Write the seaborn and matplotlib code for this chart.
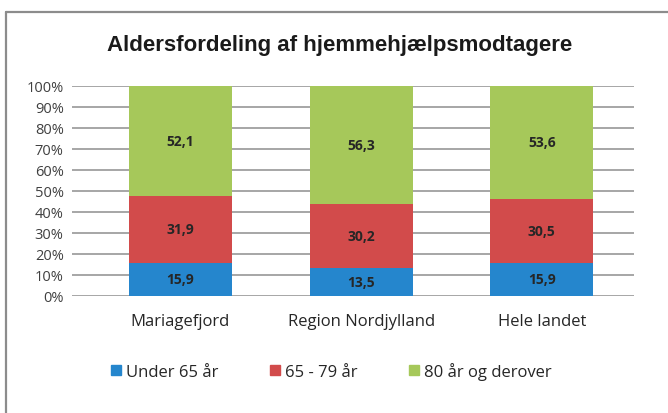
import pandas as pd
import seaborn as sns
import matplotlib.pyplot as plt
from matplotlib.patches import Rectangle
from matplotlib.lines import Line2D

# Data (percent)
regions = ['Mariagefjord', 'Region Nordjylland', 'Hele landet']
groups = ['Under 65 år', '65 - 79 år', '80 år og derover']
under65 = [15.9, 13.5, 15.9]
age65_79 = [31.9, 30.2, 30.5]
over80 = [52.1, 56.3, 53.6]
colors = ['#2586CD', '#D24B4B', '#A6C85A']

df = pd.DataFrame({'region': regions, groups[0]: under65,
                   groups[1]: age65_79, groups[2]: over80})
totals = df[groups].sum(axis=1)
# scale to 100% stacked
pct = df[groups].div(totals, axis=0) * 100
cum = pct.cumsum(axis=1)

sns.set_style('white')
plt.rcParams['font.family'] = ['Open Sans', 'DejaVu Sans']

fig = plt.figure(figsize=(6.68, 4.14), dpi=100)
ax = fig.add_axes([72 / 668, 1 - 297 / 414, (634 - 72) / 668, (297 - 87) / 414])

# outer chart border (left and top edges only visible)
bx, by = 6 / 668, 1 - 13 / 414
fig.add_artist(Line2D([bx, bx], [0, by], transform=fig.transFigure, color='#8C8C8C', linewidth=1.6))
fig.add_artist(Line2D([bx, 1], [by, by], transform=fig.transFigure, color='#8C8C8C', linewidth=1.6))

# draw cumulative bars from top down so they stack
for g, c in reversed(list(zip(groups, colors))):
    sns.barplot(x=df['region'], y=cum[g], color=c, width=0.57, saturation=1,
                ax=ax, zorder=3, linewidth=0)

# value labels
for i in range(len(regions)):
    lower = 0
    for g in groups:
        val = df[g][i]
        top = cum[g][i]
        ax.text(i, (lower + top) / 2, f'{val:.1f}'.replace('.', ','), ha='center', va='center',
                fontsize=10, fontweight='bold', color='#262626', zorder=5)
        lower = top

ax.set_ylim(0, 100)
ax.set_xlim(-0.6, 2.51)
ax.set_yticks(range(0, 101, 10))
ax.set_yticklabels([f'{v}%' for v in range(0, 101, 10)])
ax.yaxis.grid(True, color='#A6A6A6', linewidth=1.4, zorder=0)
ax.set_axisbelow(True)
for s in ax.spines.values():
    s.set_visible(False)
ax.set_xlabel('')
ax.set_ylabel('')
ax.tick_params(axis='y', length=0, labelsize=10.5, pad=6, colors='#404040')
ax.tick_params(axis='x', length=0, labelsize=12, pad=12, colors='#262626')

fig.text(340 / 668, 1 - 45 / 414, 'Aldersfordeling af hjemmehjælpsmodtagere',
         ha='center', va='center', fontsize=16, fontweight='bold',
         family=['Liberation Sans', 'DejaVu Sans'], color='#1a1a1a')

# legend
handles = [Rectangle((0, 0), 1, 1, color=c) for c in colors]
fig.legend(handles, groups, loc='center', bbox_to_anchor=(331 / 668, 1 - 372 / 414),
           ncol=3, frameon=False, fontsize=12, handlelength=0.6, handleheight=0.6,
           handletextpad=0.3, columnspacing=3.1, labelcolor='#262626')

fig.savefig('out.png', dpi=100)
